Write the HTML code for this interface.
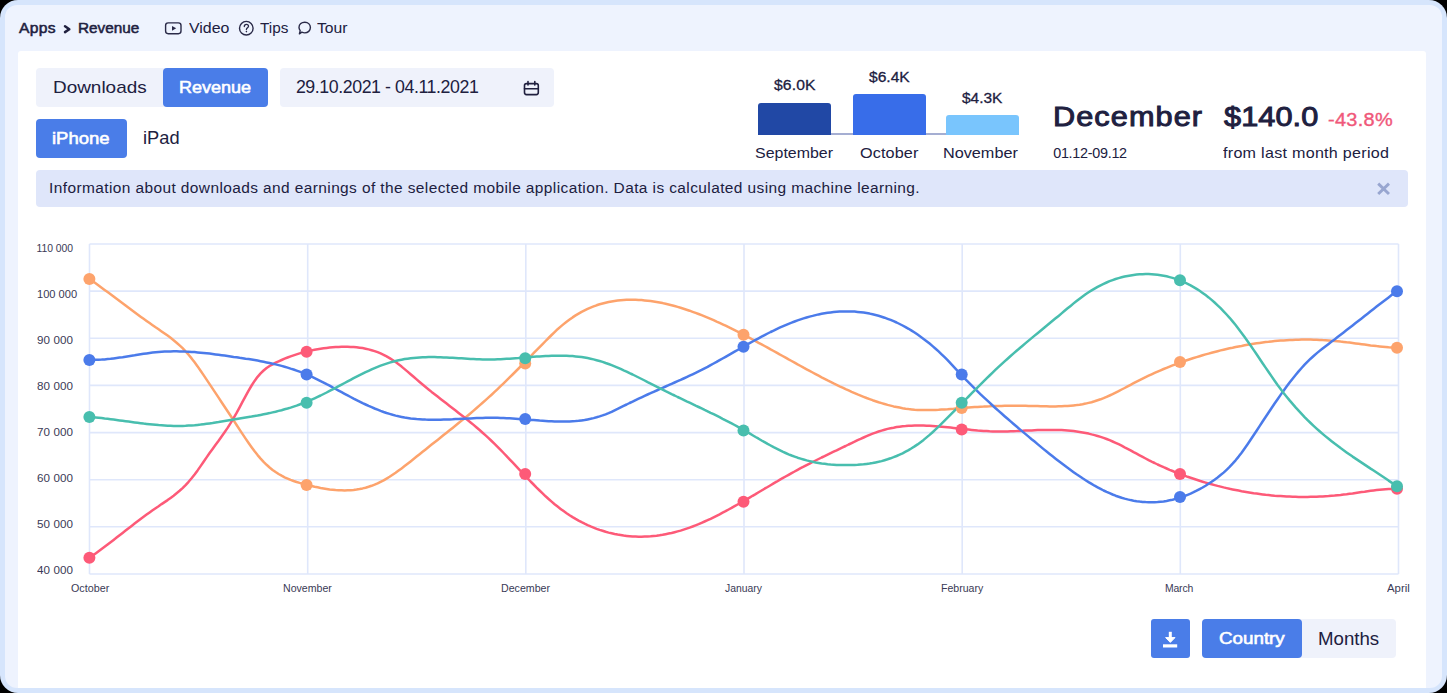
<!DOCTYPE html>
<html><head><meta charset="utf-8">
<style>
*{margin:0;padding:0;box-sizing:border-box}
html,body{width:1447px;height:693px;overflow:hidden;background:#000}
body{font-family:"Liberation Sans",sans-serif;color:#20203f;position:relative}
.frame{position:absolute;left:0;top:0;width:1447px;height:693px;background:#d6e5fc;border-radius:18px;overflow:hidden}
.panel{position:absolute;left:5px;top:5px;width:1437px;height:683px;background:#eef3fe;border-radius:12px;overflow:hidden}
.card{position:absolute;left:13px;top:46px;width:1408px;height:660px;background:#fff;border-radius:3px}
.t{position:absolute;white-space:nowrap}
.b{position:absolute;border-radius:4px}
.blue{background:#4a7de8}
.grey{background:#eff2fb}
</style></head><body>
<div class="frame"><div class="panel"><div class="card"></div></div></div>
<div class="b grey" style="left:36px;top:68px;width:232px;height:39px"></div>
<div class="b blue" style="left:163px;top:68px;width:105px;height:39px"></div>
<div class="b grey" style="left:280px;top:68px;width:274px;height:39px"></div>
<div class="b blue" style="left:36px;top:119px;width:91px;height:39px"></div>
<div class="t" style="left:758px;top:132.5px;width:261px;height:2px;background:#a5aed2"></div>
<div class="t" style="left:758px;top:103px;width:73px;height:32px;background:#2148a5;border-radius:3px 3px 0 0"></div>
<div class="t" style="left:853px;top:94px;width:73px;height:41px;background:#386de9;border-radius:3px 3px 0 0"></div>
<div class="t" style="left:946px;top:115px;width:73px;height:20px;background:#79c5fd;border-radius:3px 3px 0 0"></div>
<div class="t" style="left:36px;top:170.4px;width:1372px;height:37px;background:#dfe6fa;border-radius:4px"></div>
<svg class="t" style="left:0;top:0" width="1447" height="693" viewBox="0 0 1447 693">
<path d="M89.5 244.0H1398.5 M89.5 291.1H1398.5 M89.5 338.3H1398.5 M89.5 385.4H1398.5 M89.5 432.6H1398.5 M89.5 479.7H1398.5 M89.5 526.8H1398.5 M89.5 574.0H1398.5 M89.5 244V574 M307.7 244V574 M525.8 244V574 M744.0 244V574 M962.2 244V574 M1180.3 244V574 M1398.5 244V574" stroke="#dfe7fb" stroke-width="1.6" fill="none"/>
<path d="M89.6 279.0 92.6 281.1 95.6 283.3 98.6 285.5 101.6 287.7 104.6 289.9 107.6 292.1 110.6 294.3 113.6 296.6 116.6 298.8 119.6 301.1 122.6 303.3 125.6 305.6 128.6 307.8 131.6 310.0 134.6 312.3 137.6 314.5 140.6 316.7 143.6 318.8 146.6 321.0 149.6 323.1 152.6 325.2 155.6 327.3 158.6 329.3 161.6 331.4 164.6 333.5 167.6 335.6 170.6 337.8 173.6 340.2 176.6 342.7 179.6 345.4 182.6 348.2 185.6 351.3 188.6 354.7 191.6 358.4 194.6 362.3 197.6 366.4 200.6 370.7 203.6 375.1 206.6 379.6 209.6 384.1 212.6 388.6 215.6 393.1 218.6 397.6 221.6 402.2 224.6 406.7 227.6 411.2 230.6 415.8 233.6 420.4 236.6 425.0 239.6 429.6 242.6 434.1 245.6 438.6 248.6 443.0 251.6 447.2 254.6 451.3 257.6 455.1 260.6 458.6 263.6 461.9 266.6 464.8 269.6 467.5 272.6 469.9 275.6 472.0 278.6 474.0 281.6 475.7 284.6 477.3 287.6 478.6 290.6 479.9 293.6 481.0 296.6 482.0 299.6 482.9 302.6 483.7 305.6 484.5 308.6 485.2 311.6 486.0 314.6 486.7 317.6 487.3 320.6 487.9 323.6 488.4 326.6 488.9 329.6 489.4 332.6 489.7 335.6 490.0 338.6 490.2 341.6 490.3 344.6 490.4 347.6 490.3 350.6 490.2 353.6 489.9 356.6 489.5 359.6 489.0 362.6 488.4 365.6 487.7 368.6 486.8 371.6 485.8 374.6 484.7 377.6 483.4 380.6 481.9 383.6 480.4 386.6 478.6 389.6 476.8 392.6 474.8 395.6 472.8 398.6 470.6 401.6 468.4 404.6 466.1 407.6 463.8 410.6 461.4 413.6 459.0 416.6 456.6 419.6 454.2 422.6 451.8 425.6 449.4 428.6 447.0 431.6 444.6 434.6 442.2 437.6 439.9 440.6 437.5 443.6 435.1 446.6 432.7 449.6 430.3 452.6 427.9 455.6 425.5 458.6 423.1 461.6 420.6 464.6 418.2 467.6 415.7 470.6 413.2 473.6 410.6 476.6 408.0 479.6 405.4 482.6 402.8 485.6 400.1 488.6 397.4 491.6 394.7 494.6 391.9 497.6 389.1 500.6 386.2 503.6 383.3 506.6 380.4 509.6 377.4 512.6 374.5 515.6 371.5 518.6 368.5 521.6 365.4 524.6 362.4 527.6 359.3 530.6 356.3 533.6 353.2 536.6 350.2 539.6 347.1 542.6 344.1 545.6 341.0 548.6 338.0 551.6 335.0 554.6 332.1 557.6 329.2 560.6 326.6 563.6 324.1 566.6 321.7 569.6 319.5 572.6 317.4 575.6 315.4 578.6 313.6 581.6 311.9 584.6 310.4 587.6 308.9 590.6 307.6 593.6 306.4 596.6 305.3 599.6 304.3 602.6 303.5 605.6 302.7 608.6 302.0 611.6 301.4 614.6 300.9 617.6 300.5 620.6 300.2 623.6 300.0 626.6 299.8 629.6 299.8 632.6 299.8 635.6 299.8 638.6 299.9 641.6 300.1 644.6 300.4 647.6 300.7 650.6 301.1 653.6 301.5 656.6 302.0 659.6 302.5 662.6 303.1 665.6 303.8 668.6 304.5 671.6 305.2 674.6 306.0 677.6 306.9 680.6 307.8 683.6 308.7 686.6 309.7 689.6 310.7 692.6 311.8 695.6 312.9 698.6 314.0 701.6 315.2 704.6 316.4 707.6 317.6 710.6 318.9 713.6 320.2 716.6 321.6 719.6 322.9 722.6 324.3 725.6 325.7 728.6 327.2 731.6 328.7 734.6 330.2 737.6 331.7 740.6 333.2 743.6 334.8 746.6 336.3 749.6 337.9 752.6 339.5 755.6 341.1 758.6 342.8 761.6 344.4 764.6 346.0 767.6 347.7 770.6 349.4 773.6 351.0 776.6 352.7 779.6 354.4 782.6 356.0 785.6 357.7 788.6 359.4 791.6 361.0 794.6 362.7 797.6 364.4 800.6 366.0 803.6 367.7 806.6 369.3 809.6 370.9 812.6 372.5 815.6 374.1 818.6 375.7 821.6 377.3 824.6 378.8 827.6 380.4 830.6 381.9 833.6 383.4 836.6 384.8 839.6 386.3 842.6 387.7 845.6 389.1 848.6 390.4 851.6 391.8 854.6 393.1 857.6 394.4 860.6 395.6 863.6 396.8 866.6 398.0 869.6 399.1 872.6 400.2 875.6 401.2 878.6 402.2 881.6 403.1 884.6 404.0 887.6 404.9 890.6 405.6 893.6 406.4 896.6 407.0 899.6 407.6 902.6 408.2 905.6 408.7 908.6 409.1 911.6 409.4 914.6 409.7 917.6 409.9 920.6 410.1 923.6 410.1 926.6 410.1 929.6 410.1 932.6 410.0 935.6 409.9 938.6 409.8 941.6 409.6 944.6 409.4 947.6 409.2 950.6 408.9 953.6 408.7 956.6 408.4 959.6 408.2 962.6 407.9 965.6 407.7 968.6 407.5 971.6 407.3 974.6 407.1 977.6 406.9 980.6 406.7 983.6 406.6 986.6 406.4 989.6 406.3 992.6 406.1 995.6 406.0 998.6 405.9 1001.6 405.9 1004.6 405.8 1007.6 405.8 1010.6 405.7 1013.6 405.7 1016.6 405.7 1019.6 405.7 1022.6 405.7 1025.6 405.8 1028.6 405.9 1031.6 405.9 1034.6 406.0 1037.6 406.1 1040.6 406.2 1043.6 406.3 1046.6 406.3 1049.6 406.4 1052.6 406.4 1055.6 406.4 1058.6 406.3 1061.6 406.3 1064.6 406.1 1067.6 406.0 1070.6 405.7 1073.6 405.4 1076.6 405.1 1079.6 404.7 1082.6 404.2 1085.6 403.6 1088.6 402.9 1091.6 402.2 1094.6 401.3 1097.6 400.3 1100.6 399.3 1103.6 398.1 1106.6 396.8 1109.6 395.5 1112.6 394.1 1115.6 392.6 1118.6 391.1 1121.6 389.5 1124.6 388.0 1127.6 386.4 1130.6 384.8 1133.6 383.2 1136.6 381.6 1139.6 380.1 1142.6 378.6 1145.6 377.1 1148.6 375.7 1151.6 374.3 1154.6 372.9 1157.6 371.6 1160.6 370.3 1163.6 369.0 1166.6 367.8 1169.6 366.6 1172.6 365.4 1175.6 364.3 1178.6 363.2 1181.6 362.1 1184.6 361.0 1187.6 360.0 1190.6 359.0 1193.6 358.0 1196.6 357.1 1199.6 356.2 1202.6 355.3 1205.6 354.4 1208.6 353.6 1211.6 352.8 1214.6 352.0 1217.6 351.2 1220.6 350.4 1223.6 349.7 1226.6 349.0 1229.6 348.3 1232.6 347.7 1235.6 347.0 1238.6 346.4 1241.6 345.9 1244.6 345.3 1247.6 344.8 1250.6 344.3 1253.6 343.8 1256.6 343.3 1259.6 342.9 1262.6 342.5 1265.6 342.1 1268.6 341.8 1271.6 341.4 1274.6 341.1 1277.6 340.8 1280.6 340.6 1283.6 340.4 1286.6 340.2 1289.6 340.0 1292.6 339.9 1295.6 339.8 1298.6 339.7 1301.6 339.6 1304.6 339.6 1307.6 339.6 1310.6 339.6 1313.6 339.7 1316.6 339.8 1319.6 339.9 1322.6 340.1 1325.6 340.2 1328.6 340.4 1331.6 340.7 1334.6 340.9 1337.6 341.2 1340.6 341.6 1343.6 341.9 1346.6 342.3 1349.6 342.6 1352.6 343.0 1355.6 343.4 1358.6 343.8 1361.6 344.2 1364.6 344.6 1367.6 345.0 1370.6 345.4 1373.6 345.7 1376.6 346.1 1379.6 346.4 1382.6 346.7 1385.6 347.0 1388.6 347.3 1391.6 347.5 1394.6 347.7 1396.8 347.8" stroke="#fda36c" stroke-width="2.5" fill="none" stroke-linejoin="round" stroke-linecap="round"/>
<path d="M89.6 557.7 92.6 555.6 95.6 553.4 98.6 551.2 101.6 549.0 104.6 546.8 107.6 544.5 110.6 542.2 113.6 539.9 116.6 537.6 119.6 535.2 122.6 532.9 125.6 530.5 128.6 528.2 131.6 525.9 134.6 523.6 137.6 521.3 140.6 519.0 143.6 516.8 146.6 514.6 149.6 512.4 152.6 510.3 155.6 508.2 158.6 506.2 161.6 504.1 164.6 502.1 167.6 500.1 170.6 497.9 173.6 495.7 176.6 493.3 179.6 490.8 182.6 488.1 185.6 485.1 188.6 481.8 191.6 478.3 194.6 474.5 197.6 470.4 200.6 466.1 203.6 461.7 206.6 457.4 209.6 453.0 212.6 448.9 215.6 444.7 218.6 440.7 221.6 436.5 224.6 432.3 227.6 427.9 230.6 423.2 233.6 418.2 236.6 412.9 239.6 407.3 242.6 401.7 245.6 396.1 248.6 390.6 251.6 385.5 254.6 380.9 257.6 376.8 260.6 373.4 263.6 370.5 266.6 368.0 269.6 366.0 272.6 364.3 275.6 362.7 278.6 361.3 281.6 360.0 284.6 358.7 287.6 357.5 290.6 356.4 293.6 355.4 296.6 354.4 299.6 353.4 302.6 352.6 305.6 351.8 308.6 351.0 311.6 350.4 314.6 349.7 317.6 349.2 320.6 348.7 323.6 348.3 326.6 347.9 329.6 347.6 332.6 347.3 335.6 347.1 338.6 346.9 341.6 346.8 344.6 346.8 347.6 346.8 350.6 346.9 353.6 347.0 356.6 347.3 359.6 347.7 362.6 348.1 365.6 348.7 368.6 349.4 371.6 350.2 374.6 351.1 377.6 352.2 380.6 353.4 383.6 354.8 386.6 356.4 389.6 358.1 392.6 360.0 395.6 362.1 398.6 364.3 401.6 366.6 404.6 369.1 407.6 371.6 410.6 374.2 413.6 376.8 416.6 379.4 419.6 382.0 422.6 384.5 425.6 387.0 428.6 389.4 431.6 391.9 434.6 394.2 437.6 396.6 440.6 398.9 443.6 401.3 446.6 403.6 449.6 405.9 452.6 408.2 455.6 410.5 458.6 412.9 461.6 415.2 464.6 417.6 467.6 420.0 470.6 422.4 473.6 424.9 476.6 427.5 479.6 430.0 482.6 432.7 485.6 435.4 488.6 438.1 491.6 441.0 494.6 443.9 497.6 446.9 500.6 449.9 503.6 453.0 506.6 456.1 509.6 459.3 512.6 462.4 515.6 465.6 518.6 468.8 521.6 472.0 524.6 475.2 527.6 478.3 530.6 481.5 533.6 484.5 536.6 487.6 539.6 490.5 542.6 493.4 545.6 496.3 548.6 499.0 551.6 501.6 554.6 504.2 557.6 506.6 560.6 508.9 563.6 511.1 566.6 513.2 569.6 515.2 572.6 517.1 575.6 518.9 578.6 520.6 581.6 522.2 584.6 523.7 587.6 525.1 590.6 526.4 593.6 527.6 596.6 528.8 599.6 529.9 602.6 530.8 605.6 531.8 608.6 532.6 611.6 533.3 614.6 534.0 617.6 534.6 620.6 535.1 623.6 535.6 626.6 535.9 629.6 536.2 632.6 536.5 635.6 536.6 638.6 536.7 641.6 536.7 644.6 536.6 647.6 536.5 650.6 536.3 653.6 536.0 656.6 535.7 659.6 535.3 662.6 534.8 665.6 534.2 668.6 533.6 671.6 533.0 674.6 532.2 677.6 531.4 680.6 530.6 683.6 529.6 686.6 528.6 689.6 527.6 692.6 526.5 695.6 525.3 698.6 524.1 701.6 522.8 704.6 521.5 707.6 520.2 710.6 518.8 713.6 517.3 716.6 515.8 719.6 514.3 722.6 512.7 725.6 511.2 728.6 509.5 731.6 507.9 734.6 506.2 737.6 504.5 740.6 502.8 743.6 501.1 746.6 499.4 749.6 497.6 752.6 495.8 755.6 494.1 758.6 492.3 761.6 490.5 764.6 488.7 767.6 487.0 770.6 485.2 773.6 483.4 776.6 481.7 779.6 479.9 782.6 478.2 785.6 476.5 788.6 474.8 791.6 473.1 794.6 471.5 797.6 469.8 800.6 468.2 803.6 466.7 806.6 465.1 809.6 463.6 812.6 462.0 815.6 460.5 818.6 459.0 821.6 457.5 824.6 456.1 827.6 454.6 830.6 453.1 833.6 451.7 836.6 450.3 839.6 448.8 842.6 447.4 845.6 446.0 848.6 444.5 851.6 443.1 854.6 441.7 857.6 440.2 860.6 438.9 863.6 437.5 866.6 436.2 869.6 434.9 872.6 433.7 875.6 432.6 878.6 431.5 881.6 430.6 884.6 429.7 887.6 428.9 890.6 428.2 893.6 427.7 896.6 427.1 899.6 426.7 902.6 426.3 905.6 426.1 908.6 425.8 911.6 425.7 914.6 425.6 917.6 425.5 920.6 425.5 923.6 425.6 926.6 425.7 929.6 425.8 932.6 426.0 935.6 426.2 938.6 426.4 941.6 426.7 944.6 427.0 947.6 427.3 950.6 427.6 953.6 427.9 956.6 428.3 959.6 428.6 962.6 428.9 965.6 429.3 968.6 429.6 971.6 429.9 974.6 430.2 977.6 430.5 980.6 430.7 983.6 430.9 986.6 431.1 989.6 431.3 992.6 431.4 995.6 431.4 998.6 431.5 1001.6 431.5 1004.6 431.4 1007.6 431.4 1010.6 431.3 1013.6 431.2 1016.6 431.1 1019.6 430.9 1022.6 430.8 1025.6 430.6 1028.6 430.5 1031.6 430.4 1034.6 430.2 1037.6 430.1 1040.6 430.0 1043.6 429.9 1046.6 429.9 1049.6 429.9 1052.6 429.9 1055.6 429.9 1058.6 430.0 1061.6 430.1 1064.6 430.3 1067.6 430.5 1070.6 430.8 1073.6 431.1 1076.6 431.5 1079.6 431.9 1082.6 432.4 1085.6 433.0 1088.6 433.6 1091.6 434.4 1094.6 435.1 1097.6 436.0 1100.6 436.9 1103.6 437.9 1106.6 439.0 1109.6 440.2 1112.6 441.5 1115.6 442.8 1118.6 444.2 1121.6 445.7 1124.6 447.3 1127.6 448.8 1130.6 450.4 1133.6 452.1 1136.6 453.7 1139.6 455.3 1142.6 456.9 1145.6 458.5 1148.6 460.1 1151.6 461.6 1154.6 463.0 1157.6 464.5 1160.6 465.8 1163.6 467.2 1166.6 468.5 1169.6 469.8 1172.6 471.0 1175.6 472.3 1178.6 473.4 1181.6 474.6 1184.6 475.7 1187.6 476.8 1190.6 477.8 1193.6 478.8 1196.6 479.8 1199.6 480.8 1202.6 481.7 1205.6 482.6 1208.6 483.5 1211.6 484.3 1214.6 485.1 1217.6 485.9 1220.6 486.6 1223.6 487.4 1226.6 488.1 1229.6 488.8 1232.6 489.4 1235.6 490.0 1238.6 490.6 1241.6 491.2 1244.6 491.7 1247.6 492.2 1250.6 492.7 1253.6 493.2 1256.6 493.6 1259.6 494.0 1262.6 494.4 1265.6 494.8 1268.6 495.1 1271.6 495.4 1274.6 495.7 1277.6 495.9 1280.6 496.1 1283.6 496.3 1286.6 496.5 1289.6 496.6 1292.6 496.7 1295.6 496.8 1298.6 496.9 1301.6 496.9 1304.6 496.9 1307.6 496.9 1310.6 496.8 1313.6 496.8 1316.6 496.7 1319.6 496.5 1322.6 496.4 1325.6 496.2 1328.6 496.0 1331.6 495.7 1334.6 495.5 1337.6 495.2 1340.6 494.9 1343.6 494.5 1346.6 494.2 1349.6 493.8 1352.6 493.4 1355.6 492.9 1358.6 492.5 1361.6 492.1 1364.6 491.7 1367.6 491.2 1370.6 490.8 1373.6 490.4 1376.6 490.1 1379.6 489.8 1382.6 489.5 1385.6 489.3 1388.6 489.1 1391.6 488.9 1394.6 488.9 1396.8 488.9" stroke="#fd5a78" stroke-width="2.5" fill="none" stroke-linejoin="round" stroke-linecap="round"/>
<path d="M89.6 359.8 92.6 359.8 95.6 359.8 98.6 359.7 101.6 359.6 104.6 359.4 107.6 359.1 110.6 358.8 113.6 358.4 116.6 358.0 119.6 357.6 122.6 357.2 125.6 356.7 128.6 356.2 131.6 355.7 134.6 355.3 137.6 354.8 140.6 354.3 143.6 353.8 146.6 353.4 149.6 353.0 152.6 352.6 155.6 352.3 158.6 352.0 161.6 351.8 164.6 351.6 167.6 351.4 170.6 351.4 173.6 351.3 176.6 351.3 179.6 351.4 182.6 351.4 185.6 351.6 188.6 351.7 191.6 351.9 194.6 352.1 197.6 352.4 200.6 352.7 203.6 353.0 206.6 353.3 209.6 353.6 212.6 354.0 215.6 354.4 218.6 354.8 221.6 355.2 224.6 355.6 227.6 356.0 230.6 356.4 233.6 356.9 236.6 357.3 239.6 357.8 242.6 358.2 245.6 358.7 248.6 359.1 251.6 359.6 254.6 360.1 257.6 360.6 260.6 361.2 263.6 361.8 266.6 362.4 269.6 363.0 272.6 363.7 275.6 364.4 278.6 365.1 281.6 365.9 284.6 366.7 287.6 367.6 290.6 368.6 293.6 369.5 296.6 370.6 299.6 371.7 302.6 372.8 305.6 374.1 308.6 375.3 311.6 376.7 314.6 378.1 317.6 379.6 320.6 381.1 323.6 382.6 326.6 384.2 329.6 385.7 332.6 387.4 335.6 389.0 338.6 390.6 341.6 392.2 344.6 393.8 347.6 395.4 350.6 397.0 353.6 398.6 356.6 400.1 359.6 401.6 362.6 403.1 365.6 404.5 368.6 405.9 371.6 407.2 374.6 408.5 377.6 409.7 380.6 410.9 383.6 412.0 386.6 413.0 389.6 413.9 392.6 414.8 395.6 415.6 398.6 416.3 401.6 416.9 404.6 417.5 407.6 417.9 410.6 418.4 413.6 418.7 416.6 419.0 419.6 419.2 422.6 419.4 425.6 419.6 428.6 419.7 431.6 419.7 434.6 419.7 437.6 419.7 440.6 419.7 443.6 419.6 446.6 419.5 449.6 419.4 452.6 419.3 455.6 419.1 458.6 419.0 461.6 418.8 464.6 418.7 467.6 418.5 470.6 418.4 473.6 418.2 476.6 418.1 479.6 418.0 482.6 417.9 485.6 417.8 488.6 417.8 491.6 417.8 494.6 417.8 497.6 417.8 500.6 417.9 503.6 418.0 506.6 418.2 509.6 418.3 512.6 418.5 515.6 418.7 518.6 418.9 521.6 419.1 524.6 419.4 527.6 419.6 530.6 419.9 533.6 420.1 536.6 420.3 539.6 420.6 542.6 420.8 545.6 421.0 548.6 421.2 551.6 421.3 554.6 421.5 557.6 421.6 560.6 421.6 563.6 421.6 566.6 421.6 569.6 421.5 572.6 421.3 575.6 421.1 578.6 420.8 581.6 420.4 584.6 420.0 587.6 419.4 590.6 418.8 593.6 418.1 596.6 417.3 599.6 416.4 602.6 415.4 605.6 414.3 608.6 413.1 611.6 411.8 614.6 410.3 617.6 408.9 620.6 407.4 623.6 405.9 626.6 404.5 629.6 403.0 632.6 401.6 635.6 400.1 638.6 398.7 641.6 397.3 644.6 395.9 647.6 394.5 650.6 393.2 653.6 391.8 656.6 390.5 659.6 389.1 662.6 387.8 665.6 386.5 668.6 385.2 671.6 383.8 674.6 382.5 677.6 381.2 680.6 379.9 683.6 378.5 686.6 377.1 689.6 375.7 692.6 374.3 695.6 372.9 698.6 371.4 701.6 369.9 704.6 368.3 707.6 366.8 710.6 365.1 713.6 363.5 716.6 361.9 719.6 360.2 722.6 358.5 725.6 356.8 728.6 355.1 731.6 353.4 734.6 351.7 737.6 350.0 740.6 348.3 743.6 346.6 746.6 344.9 749.6 343.2 752.6 341.5 755.6 339.9 758.6 338.3 761.6 336.7 764.6 335.1 767.6 333.5 770.6 332.0 773.6 330.6 776.6 329.1 779.6 327.7 782.6 326.4 785.6 325.1 788.6 323.8 791.6 322.7 794.6 321.5 797.6 320.4 800.6 319.4 803.6 318.4 806.6 317.5 809.6 316.6 812.6 315.9 815.6 315.1 818.6 314.4 821.6 313.8 824.6 313.3 827.6 312.8 830.6 312.4 833.6 312.1 836.6 311.8 839.6 311.6 842.6 311.4 845.6 311.4 848.6 311.4 851.6 311.5 854.6 311.6 857.6 311.9 860.6 312.2 863.6 312.6 866.6 313.1 869.6 313.6 872.6 314.3 875.6 315.0 878.6 315.8 881.6 316.7 884.6 317.7 887.6 318.8 890.6 319.9 893.6 321.2 896.6 322.5 899.6 324.0 902.6 325.5 905.6 327.1 908.6 328.8 911.6 330.6 914.6 332.5 917.6 334.6 920.6 336.7 923.6 338.9 926.6 341.2 929.6 343.6 932.6 346.1 935.6 348.7 938.6 351.4 941.6 354.3 944.6 357.2 947.6 360.2 950.6 363.4 953.6 366.6 956.6 369.8 959.6 373.0 962.6 376.2 965.6 379.3 968.6 382.4 971.6 385.4 974.6 388.4 977.6 391.4 980.6 394.3 983.6 397.1 986.6 399.9 989.6 402.7 992.6 405.5 995.6 408.2 998.6 410.9 1001.6 413.5 1004.6 416.2 1007.6 418.8 1010.6 421.4 1013.6 424.0 1016.6 426.5 1019.6 429.1 1022.6 431.6 1025.6 434.1 1028.6 436.6 1031.6 439.2 1034.6 441.6 1037.6 444.1 1040.6 446.6 1043.6 449.1 1046.6 451.5 1049.6 453.9 1052.6 456.3 1055.6 458.7 1058.6 461.0 1061.6 463.3 1064.6 465.6 1067.6 467.8 1070.6 470.0 1073.6 472.2 1076.6 474.3 1079.6 476.3 1082.6 478.3 1085.6 480.2 1088.6 482.1 1091.6 483.9 1094.6 485.7 1097.6 487.3 1100.6 488.9 1103.6 490.5 1106.6 491.9 1109.6 493.2 1112.6 494.5 1115.6 495.7 1118.6 496.7 1121.6 497.7 1124.6 498.6 1127.6 499.4 1130.6 500.1 1133.6 500.7 1136.6 501.2 1139.6 501.6 1142.6 501.9 1145.6 502.1 1148.6 502.2 1151.6 502.2 1154.6 502.2 1157.6 502.0 1160.6 501.7 1163.6 501.4 1166.6 500.9 1169.6 500.3 1172.6 499.7 1175.6 498.9 1178.6 498.0 1181.6 497.1 1184.6 496.0 1187.6 494.8 1190.6 493.6 1193.6 492.2 1196.6 490.7 1199.6 489.1 1202.6 487.5 1205.6 485.7 1208.6 483.8 1211.6 481.8 1214.6 479.7 1217.6 477.5 1220.6 475.1 1223.6 472.6 1226.6 469.8 1229.6 466.9 1232.6 463.7 1235.6 460.3 1238.6 456.6 1241.6 452.7 1244.6 448.5 1247.6 444.2 1250.6 439.8 1253.6 435.3 1256.6 430.7 1259.6 426.1 1262.6 421.5 1265.6 417.0 1268.6 412.5 1271.6 408.0 1274.6 403.5 1277.6 399.2 1280.6 394.9 1283.6 390.7 1286.6 386.6 1289.6 382.6 1292.6 378.7 1295.6 375.0 1298.6 371.4 1301.6 368.0 1304.6 364.7 1307.6 361.6 1310.6 358.7 1313.6 356.0 1316.6 353.4 1319.6 350.9 1322.6 348.5 1325.6 346.2 1328.6 343.9 1331.6 341.6 1334.6 339.4 1337.6 337.1 1340.6 334.8 1343.6 332.4 1346.6 330.1 1349.6 327.8 1352.6 325.4 1355.6 323.1 1358.6 320.7 1361.6 318.4 1364.6 316.0 1367.6 313.7 1370.6 311.3 1373.6 309.0 1376.6 306.6 1379.6 304.3 1382.6 302.0 1385.6 299.7 1388.6 297.4 1391.6 295.1 1394.6 292.8 1396.8 291.2" stroke="#4b7bea" stroke-width="2.5" fill="none" stroke-linejoin="round" stroke-linecap="round"/>
<path d="M89.6 417.0 92.6 417.2 95.6 417.5 98.6 417.8 101.6 418.1 104.6 418.5 107.6 418.8 110.6 419.2 113.6 419.6 116.6 420.0 119.6 420.4 122.6 420.8 125.6 421.2 128.6 421.6 131.6 422.0 134.6 422.4 137.6 422.8 140.6 423.2 143.6 423.6 146.6 423.9 149.6 424.2 152.6 424.5 155.6 424.8 158.6 425.1 161.6 425.3 164.6 425.5 167.6 425.7 170.6 425.8 173.6 425.9 176.6 425.9 179.6 425.9 182.6 425.9 185.6 425.8 188.6 425.6 191.6 425.4 194.6 425.2 197.6 424.9 200.6 424.6 203.6 424.2 206.6 423.8 209.6 423.4 212.6 423.0 215.6 422.5 218.6 422.1 221.6 421.6 224.6 421.1 227.6 420.6 230.6 420.1 233.6 419.6 236.6 419.1 239.6 418.6 242.6 418.1 245.6 417.6 248.6 417.1 251.6 416.6 254.6 416.0 257.6 415.5 260.6 414.9 263.6 414.3 266.6 413.7 269.6 413.1 272.6 412.4 275.6 411.7 278.6 410.9 281.6 410.2 284.6 409.3 287.6 408.5 290.6 407.6 293.6 406.6 296.6 405.6 299.6 404.5 302.6 403.4 305.6 402.2 308.6 401.0 311.6 399.7 314.6 398.3 317.6 396.9 320.6 395.5 323.6 394.0 326.6 392.5 329.6 390.9 332.6 389.4 335.6 387.8 338.6 386.2 341.6 384.6 344.6 383.0 347.6 381.4 350.6 379.8 353.6 378.2 356.6 376.7 359.6 375.2 362.6 373.7 365.6 372.2 368.6 370.8 371.6 369.4 374.6 368.1 377.6 366.9 380.6 365.7 383.6 364.6 386.6 363.6 389.6 362.6 392.6 361.7 395.6 361.0 398.6 360.3 401.6 359.7 404.6 359.1 407.6 358.7 410.6 358.3 413.6 357.9 416.6 357.7 419.6 357.5 422.6 357.3 425.6 357.2 428.6 357.1 431.6 357.1 434.6 357.1 437.6 357.2 440.6 357.3 443.6 357.4 446.6 357.5 449.6 357.7 452.6 357.8 455.6 358.0 458.6 358.2 461.6 358.3 464.6 358.5 467.6 358.7 470.6 358.9 473.6 359.0 476.6 359.2 479.6 359.3 482.6 359.4 485.6 359.4 488.6 359.4 491.6 359.4 494.6 359.4 497.6 359.3 500.6 359.2 503.6 359.0 506.6 358.8 509.6 358.7 512.6 358.4 515.6 358.2 518.6 358.0 521.6 357.7 524.6 357.5 527.6 357.3 530.6 357.0 533.6 356.8 536.6 356.6 539.6 356.4 542.6 356.2 545.6 356.0 548.6 355.9 551.6 355.8 554.6 355.7 557.6 355.7 560.6 355.7 563.6 355.7 566.6 355.8 569.6 355.9 572.6 356.1 575.6 356.4 578.6 356.7 581.6 357.1 584.6 357.6 587.6 358.1 590.6 358.7 593.6 359.4 596.6 360.2 599.6 361.0 602.6 361.9 605.6 363.0 608.6 364.0 611.6 365.2 614.6 366.4 617.6 367.6 620.6 368.9 623.6 370.3 626.6 371.6 629.6 373.1 632.6 374.5 635.6 376.0 638.6 377.5 641.6 379.0 644.6 380.5 647.6 382.1 650.6 383.6 653.6 385.1 656.6 386.7 659.6 388.2 662.6 389.7 665.6 391.2 668.6 392.6 671.6 394.1 674.6 395.5 677.6 397.0 680.6 398.4 683.6 399.8 686.6 401.3 689.6 402.7 692.6 404.1 695.6 405.6 698.6 407.0 701.6 408.4 704.6 409.9 707.6 411.3 710.6 412.8 713.6 414.2 716.6 415.7 719.6 417.2 722.6 418.8 725.6 420.3 728.6 421.8 731.6 423.4 734.6 425.0 737.6 426.7 740.6 428.3 743.6 430.0 746.6 431.7 749.6 433.4 752.6 435.2 755.6 437.0 758.6 438.7 761.6 440.5 764.6 442.2 767.6 443.9 770.6 445.5 773.6 447.2 776.6 448.7 779.6 450.2 782.6 451.7 785.6 453.0 788.6 454.3 791.6 455.5 794.6 456.6 797.6 457.7 800.6 458.6 803.6 459.5 806.6 460.4 809.6 461.1 812.6 461.8 815.6 462.4 818.6 462.9 821.6 463.4 824.6 463.8 827.6 464.2 830.6 464.5 833.6 464.7 836.6 464.9 839.6 465.0 842.6 465.1 845.6 465.1 848.6 465.1 851.6 465.1 854.6 464.9 857.6 464.8 860.6 464.5 863.6 464.3 866.6 463.9 869.6 463.5 872.6 463.0 875.6 462.4 878.6 461.8 881.6 461.1 884.6 460.2 887.6 459.3 890.6 458.3 893.6 457.2 896.6 456.0 899.6 454.7 902.6 453.3 905.6 451.7 908.6 450.1 911.6 448.3 914.6 446.4 917.6 444.4 920.6 442.2 923.6 439.9 926.6 437.4 929.6 434.9 932.6 432.2 935.6 429.4 938.6 426.6 941.6 423.7 944.6 420.7 947.6 417.7 950.6 414.7 953.6 411.7 956.6 408.7 959.6 405.6 962.6 402.6 965.6 399.5 968.6 396.5 971.6 393.4 974.6 390.4 977.6 387.4 980.6 384.4 983.6 381.4 986.6 378.4 989.6 375.5 992.6 372.6 995.6 369.7 998.6 366.9 1001.6 364.1 1004.6 361.4 1007.6 358.7 1010.6 356.0 1013.6 353.4 1016.6 350.8 1019.6 348.2 1022.6 345.7 1025.6 343.1 1028.6 340.6 1031.6 338.1 1034.6 335.6 1037.6 333.2 1040.6 330.7 1043.6 328.2 1046.6 325.8 1049.6 323.3 1052.6 320.8 1055.6 318.3 1058.6 315.9 1061.6 313.4 1064.6 310.8 1067.6 308.3 1070.6 305.9 1073.6 303.4 1076.6 301.0 1079.6 298.7 1082.6 296.5 1085.6 294.3 1088.6 292.3 1091.6 290.4 1094.6 288.6 1097.6 286.9 1100.6 285.3 1103.6 283.9 1106.6 282.5 1109.6 281.2 1112.6 280.1 1115.6 279.0 1118.6 278.1 1121.6 277.3 1124.6 276.5 1127.6 275.9 1130.6 275.4 1133.6 274.9 1136.6 274.6 1139.6 274.3 1142.6 274.2 1145.6 274.1 1148.6 274.1 1151.6 274.2 1154.6 274.5 1157.6 274.8 1160.6 275.2 1163.6 275.7 1166.6 276.3 1169.6 277.1 1172.6 277.9 1175.6 278.9 1178.6 279.9 1181.6 281.1 1184.6 282.4 1187.6 283.9 1190.6 285.4 1193.6 287.1 1196.6 288.9 1199.6 290.8 1202.6 292.9 1205.6 295.1 1208.6 297.4 1211.6 299.9 1214.6 302.5 1217.6 305.3 1220.6 308.2 1223.6 311.3 1226.6 314.5 1229.6 317.8 1232.6 321.4 1235.6 325.0 1238.6 328.9 1241.6 332.9 1244.6 337.0 1247.6 341.2 1250.6 345.5 1253.6 349.9 1256.6 354.3 1259.6 358.7 1262.6 363.2 1265.6 367.6 1268.6 372.0 1271.6 376.4 1274.6 380.7 1277.6 384.9 1280.6 388.9 1283.6 392.9 1286.6 396.7 1289.6 400.4 1292.6 403.9 1295.6 407.4 1298.6 410.7 1301.6 413.9 1304.6 417.1 1307.6 420.1 1310.6 423.0 1313.6 425.8 1316.6 428.6 1319.6 431.3 1322.6 433.9 1325.6 436.4 1328.6 438.8 1331.6 441.2 1334.6 443.6 1337.6 445.8 1340.6 448.1 1343.6 450.2 1346.6 452.4 1349.6 454.5 1352.6 456.6 1355.6 458.6 1358.6 460.6 1361.6 462.6 1364.6 464.6 1367.6 466.6 1370.6 468.6 1373.6 470.5 1376.6 472.5 1379.6 474.5 1382.6 476.5 1385.6 478.5 1388.6 480.6 1391.6 482.6 1394.6 484.7 1396.8 486.3" stroke="#48beae" stroke-width="2.5" fill="none" stroke-linejoin="round" stroke-linecap="round"/>
<circle cx="89.4" cy="279.0" r="6" fill="#fda36c"/>
<circle cx="306.6" cy="484.9" r="6" fill="#fda36c"/>
<circle cx="525.2" cy="363.4" r="6" fill="#fda36c"/>
<circle cx="743.5" cy="334.8" r="6" fill="#fda36c"/>
<circle cx="961.7" cy="408.0" r="6" fill="#fda36c"/>
<circle cx="1180.0" cy="362.0" r="6" fill="#fda36c"/>
<circle cx="1397.0" cy="347.8" r="6" fill="#fda36c"/>
<circle cx="89.4" cy="557.7" r="6" fill="#fd5a78"/>
<circle cx="306.6" cy="351.7" r="6" fill="#fd5a78"/>
<circle cx="525.2" cy="474.0" r="6" fill="#fd5a78"/>
<circle cx="743.5" cy="501.8" r="6" fill="#fd5a78"/>
<circle cx="961.7" cy="429.4" r="6" fill="#fd5a78"/>
<circle cx="1180.0" cy="474.0" r="6" fill="#fd5a78"/>
<circle cx="1397.0" cy="488.8" r="6" fill="#fd5a78"/>
<circle cx="89.4" cy="360.0" r="6" fill="#4b7bea"/>
<circle cx="306.6" cy="374.5" r="6" fill="#4b7bea"/>
<circle cx="525.2" cy="419.1" r="6" fill="#4b7bea"/>
<circle cx="743.5" cy="346.8" r="6" fill="#4b7bea"/>
<circle cx="961.7" cy="374.5" r="6" fill="#4b7bea"/>
<circle cx="1180.0" cy="496.9" r="6" fill="#4b7bea"/>
<circle cx="1397.0" cy="291.2" r="6" fill="#4b7bea"/>
<circle cx="89.4" cy="417.0" r="6" fill="#48beae"/>
<circle cx="306.6" cy="402.7" r="6" fill="#48beae"/>
<circle cx="525.2" cy="358.2" r="6" fill="#48beae"/>
<circle cx="743.5" cy="430.6" r="6" fill="#48beae"/>
<circle cx="961.7" cy="402.7" r="6" fill="#48beae"/>
<circle cx="1180.0" cy="280.2" r="6" fill="#48beae"/>
<circle cx="1397.0" cy="486.2" r="6" fill="#48beae"/>
</svg>
<div class="b blue" style="left:1151px;top:619px;width:39px;height:39px;border-radius:3px"></div>
<div class="b grey" style="left:1202px;top:619px;width:194px;height:39px"></div>
<div class="b blue" style="left:1202px;top:619px;width:100px;height:39px"></div>

<svg class="t" style="left:0;top:0" width="400" height="50" viewBox="0 0 400 50">
 <path d="M65 26.3 L69.3 29.2 L65 32.1" stroke="#20203f" stroke-width="2.5" fill="none" stroke-linecap="round" stroke-linejoin="round"/>
 <rect x="165.6" y="22.9" width="15.4" height="10.8" rx="2.6" stroke="#2a2a48" stroke-width="1.4" fill="none"/>
 <path d="M172 25.9 L176.2 28.3 L172 30.7Z" fill="#2a2a48"/>
 <circle cx="246.3" cy="28.2" r="6.8" stroke="#2a2a48" stroke-width="1.4" fill="none"/>
 <path d="M244.3 26.6 C244.3 25.1 245.3 24.4 246.4 24.4 C247.6 24.4 248.5 25.2 248.5 26.3 C248.5 27.8 246.4 27.9 246.4 29.6" stroke="#2a2a48" stroke-width="1.3" fill="none" stroke-linecap="round"/>
 <circle cx="246.4" cy="31.6" r="0.8" fill="#2a2a48"/>
 <path d="M299.4 33.8 L300.2 30.6 C299.4 29.5 299 28.4 299 27.4 C299 24.3 301.6 22.2 304.8 22.2 C308 22.2 310.4 24.5 310.4 27.6 C310.4 30.6 307.9 32.9 304.8 32.9 C303.6 32.9 302.6 32.6 301.8 32.2 Z" stroke="#2a2a48" stroke-width="1.4" fill="none" stroke-linejoin="round"/>
</svg>
<svg class="t" style="left:520px;top:78px" width="22" height="20" viewBox="520 78 22 20">
 <rect x="524.5" y="83.6" width="13.8" height="11" rx="2" stroke="#20203f" stroke-width="1.6" fill="none"/>
 <path d="M524.5 88.8H538.3 M528 81.6V85 M534.8 81.6V85" stroke="#20203f" stroke-width="1.6" stroke-linecap="round"/>
</svg>
<svg class="t" style="left:1370px;top:176px" width="26" height="26" viewBox="1370 176 26 26">
 <path d="M1378.2 183.6 L1389 194 M1389 183.6 L1378.2 194" stroke="#98a6d0" stroke-width="2.9" stroke-linecap="butt"/>
</svg>
<svg class="t" style="left:1151px;top:619px" width="39" height="39" viewBox="1151 619 39 39">
 <path d="M1170.3 631.8V641" stroke="#fff" stroke-width="3"/>
 <path d="M1165.6 637.6 L1170.3 642.4 L1175 637.6Z" fill="#fff" stroke="#fff" stroke-width="1" stroke-linejoin="round"/>
 <rect x="1163" y="644.3" width="14.2" height="3.2" fill="#fff"/>
</svg>
<div class="t" style="left:18.97px;top:20px;font-size:13.96px;line-height:16px;letter-spacing:0.279px;transform:scaleX(1.1200);transform-origin:0 0;-webkit-text-stroke:0.49px #20203f">Apps</div>
<div class="t" style="left:77.87px;top:20px;font-size:13.96px;line-height:16px;letter-spacing:0.000px;transform:scaleX(1.0967);transform-origin:0 0;-webkit-text-stroke:0.49px #20203f">Revenue</div>
<div class="t" style="left:189.10px;top:20px;font-size:14.70px;line-height:16px;letter-spacing:0.000px;transform:scaleX(1.0827);transform-origin:0 0">Video</div>
<div class="t" style="left:260.40px;top:20px;font-size:14.70px;line-height:16px;letter-spacing:0.000px;transform:scaleX(1.0425);transform-origin:0 0">Tips</div>
<div class="t" style="left:317.20px;top:20px;font-size:14.70px;line-height:16px;letter-spacing:-0.000px;transform:scaleX(1.0670);transform-origin:0 0">Tour</div>
<div class="t" style="left:52.70px;top:77px;font-size:17.18px;line-height:20px;letter-spacing:0.000px;transform:scaleX(1.1023);transform-origin:0 0">Downloads</div>
<div class="t" style="left:179.21px;top:78px;font-size:16.38px;line-height:18px;letter-spacing:0.000px;transform:scaleX(1.1007);transform-origin:0 0;-webkit-text-stroke:0.57px #fff;color:#fff">Revenue</div>
<div class="t" style="left:295.90px;top:77px;font-size:17.75px;line-height:20px;letter-spacing:-0.418px">29.10.2021 - 04.11.2021</div>
<div class="t" style="left:52.41px;top:129px;font-size:16.64px;line-height:19px;letter-spacing:0.000px;transform:scaleX(1.1115);transform-origin:0 0;-webkit-text-stroke:0.58px #fff;color:#fff">iPhone</div>
<div class="t" style="left:143.15px;top:128px;font-size:17.46px;line-height:20px;letter-spacing:0.000px;transform:scaleX(1.0474);transform-origin:0 0">iPad</div>
<div class="t" style="left:773.76px;top:77px;font-size:14.00px;line-height:16px;letter-spacing:0.127px;transform:scaleX(1.1200);transform-origin:0 0;-webkit-text-stroke:0.28px #20203f">$6.0K</div>
<div class="t" style="left:868.56px;top:69px;font-size:14.00px;line-height:16px;letter-spacing:0.000px;transform:scaleX(1.1138);transform-origin:0 0;-webkit-text-stroke:0.28px #20203f">$6.4K</div>
<div class="t" style="left:961.65px;top:90px;font-size:14.00px;line-height:16px;letter-spacing:0.000px;transform:scaleX(1.1032);transform-origin:0 0;-webkit-text-stroke:0.28px #20203f">$4.3K</div>
<div class="t" style="left:755.40px;top:145px;font-size:14.51px;line-height:16px;letter-spacing:0.000px;transform:scaleX(1.0999);transform-origin:0 0">September</div>
<div class="t" style="left:859.70px;top:145px;font-size:14.51px;line-height:16px;letter-spacing:0.095px;transform:scaleX(1.1200);transform-origin:0 0">October</div>
<div class="t" style="left:942.98px;top:145px;font-size:14.51px;line-height:16px;letter-spacing:0.000px;transform:scaleX(1.1187);transform-origin:0 0">November</div>
<div class="t" style="left:1052.80px;top:101px;font-size:27.38px;line-height:31px;letter-spacing:0.965px;transform:scaleX(1.1200);transform-origin:0 0;-webkit-text-stroke:0.96px #20203f">December</div>
<div class="t" style="left:1224.14px;top:101px;font-size:27.38px;line-height:31px;letter-spacing:0.090px;transform:scaleX(1.1200);transform-origin:0 0;-webkit-text-stroke:0.96px #20203f">$140.0</div>
<div class="t" style="left:1327.60px;top:110px;font-size:17.81px;line-height:20px;letter-spacing:0.259px;transform:scaleX(1.1200);transform-origin:0 0;-webkit-text-stroke:0.36px #f0587a;color:#f0587a">-43.8%</div>
<div class="t" style="left:1053.20px;top:145px;font-size:14.37px;line-height:16px;letter-spacing:-0.276px">01.12-09.12</div>
<div class="t" style="left:1222.90px;top:145px;font-size:14.37px;line-height:16px;letter-spacing:0.254px;transform:scaleX(1.1200);transform-origin:0 0">from last month period</div>
<div class="t" style="left:49.48px;top:181px;font-size:13.80px;line-height:15px;letter-spacing:0.361px;transform:scaleX(1.1200);transform-origin:0 0">Information about downloads and earnings of the selected mobile application. Data is calculated using machine learning.</div>
<div class="t" style="left:1218.83px;top:629px;font-size:16.78px;line-height:19px;letter-spacing:0.000px;transform:scaleX(1.1200);transform-origin:0 0;-webkit-text-stroke:0.59px #fff;color:#fff">Country</div>
<div class="t" style="left:1318.44px;top:629px;font-size:17.61px;line-height:20px;letter-spacing:-0.000px;transform:scaleX(1.0598);transform-origin:0 0">Months</div>
<div class="t" style="left:36.60px;top:243px;font-size:10.40px;line-height:11px;letter-spacing:-0.051px;color:#3a3a56">110 000</div>
<div class="t" style="left:36.60px;top:289px;font-size:10.40px;line-height:11px;letter-spacing:0.000px;transform:scaleX(1.0693);transform-origin:0 0;color:#3a3a56">100 000</div>
<div class="t" style="left:36.60px;top:335px;font-size:10.40px;line-height:11px;letter-spacing:0.064px;transform:scaleX(1.1200);transform-origin:0 0;color:#3a3a56">90 000</div>
<div class="t" style="left:36.60px;top:381px;font-size:10.40px;line-height:11px;letter-spacing:0.064px;transform:scaleX(1.1200);transform-origin:0 0;color:#3a3a56">80 000</div>
<div class="t" style="left:36.60px;top:427px;font-size:10.40px;line-height:11px;letter-spacing:0.064px;transform:scaleX(1.1200);transform-origin:0 0;color:#3a3a56">70 000</div>
<div class="t" style="left:36.60px;top:473px;font-size:10.40px;line-height:11px;letter-spacing:0.064px;transform:scaleX(1.1200);transform-origin:0 0;color:#3a3a56">60 000</div>
<div class="t" style="left:36.60px;top:519px;font-size:10.40px;line-height:11px;letter-spacing:0.064px;transform:scaleX(1.1200);transform-origin:0 0;color:#3a3a56">50 000</div>
<div class="t" style="left:36.60px;top:565px;font-size:10.40px;line-height:11px;letter-spacing:0.064px;transform:scaleX(1.1200);transform-origin:0 0;color:#3a3a56">40 000</div>
<div class="t" style="left:70.90px;top:583px;font-size:10.40px;line-height:11px;letter-spacing:0.000px;transform:scaleX(1.0346);transform-origin:0 0;color:#3a3a56">October</div>
<div class="t" style="left:282.80px;top:583px;font-size:10.40px;line-height:11px;letter-spacing:-0.000px;transform:scaleX(1.0192);transform-origin:0 0;color:#3a3a56">November</div>
<div class="t" style="left:500.50px;top:583px;font-size:10.40px;line-height:11px;letter-spacing:-0.000px;transform:scaleX(1.0233);transform-origin:0 0;color:#3a3a56">December</div>
<div class="t" style="left:725.00px;top:583px;font-size:10.40px;line-height:11px;letter-spacing:-0.000px;color:#3a3a56">January</div>
<div class="t" style="left:940.70px;top:583px;font-size:10.40px;line-height:11px;letter-spacing:0.000px;transform:scaleX(1.0169);transform-origin:0 0;color:#3a3a56">February</div>
<div class="t" style="left:1164.90px;top:583px;font-size:10.40px;line-height:11px;letter-spacing:-0.122px;color:#3a3a56">March</div>
<div class="t" style="left:1387.00px;top:583px;font-size:10.40px;line-height:11px;letter-spacing:-0.000px;transform:scaleX(1.0939);transform-origin:0 0;color:#3a3a56">April</div>
</body></html>
